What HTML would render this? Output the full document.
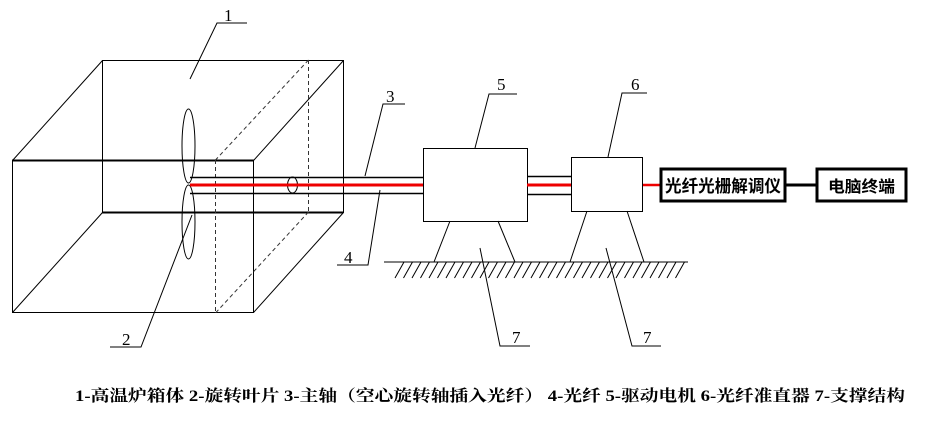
<!DOCTYPE html>
<html><head><meta charset="utf-8"><style>
html,body{margin:0;padding:0;background:#fff;}
svg{display:block;}
</style></head><body>
<svg width="952" height="421" viewBox="0 0 952 421" xmlns="http://www.w3.org/2000/svg">
<g stroke="#000" stroke-width="1" fill="none">
<rect x="102.5" y="60.5" width="241" height="152"/>
<line x1="102" y1="212.5" x2="343" y2="212.5" stroke-width="2"/>
<rect x="12.5" y="160.5" width="241" height="152"/>
<line x1="12" y1="160.5" x2="254" y2="160.5" stroke-width="2"/>
<line x1="12.5" y1="160.5" x2="102.5" y2="60.5"/>
<line x1="253.5" y1="160.5" x2="343.5" y2="60.5"/>
<line x1="12.5" y1="312.5" x2="102.5" y2="212.5"/>
<line x1="253.5" y1="312.5" x2="343.5" y2="212.5"/>
<g stroke-dasharray="4,3" stroke="#333">
<line x1="308.5" y1="60" x2="308.5" y2="212"/>
<line x1="308.5" y1="60" x2="215.5" y2="160"/>
<line x1="215.5" y1="160" x2="215.5" y2="313"/>
<line x1="308.5" y1="212" x2="215.5" y2="313"/>
</g>
<ellipse cx="188.5" cy="146" rx="6.5" ry="37"/>
<ellipse cx="188.5" cy="222" rx="6.5" ry="37"/>
<line x1="190" y1="177.5" x2="423" y2="177.5" stroke-width="1.5"/>
<line x1="190" y1="193.5" x2="423" y2="193.5" stroke-width="1.5"/>
<ellipse cx="292.5" cy="185" rx="5" ry="8"/>
<line x1="527" y1="176.5" x2="571" y2="176.5" stroke-width="1.5"/>
<line x1="527" y1="194.5" x2="571" y2="194.5" stroke-width="1.5"/>
<rect x="423.5" y="148.5" width="104" height="73" fill="#fff"/>
<rect x="571.5" y="157.5" width="71" height="54" fill="#fff"/>
<line x1="190" y1="185" x2="423" y2="185" stroke="#e00" stroke-width="3"/>
<line x1="527" y1="185" x2="571" y2="185" stroke="#e00" stroke-width="3"/>
<line x1="643" y1="185" x2="660" y2="185" stroke="#e00" stroke-width="2.5"/>
<rect x="661" y="169" width="124" height="32" stroke-width="3"/>
<line x1="785" y1="185" x2="817" y2="185" stroke-width="3"/>
<rect x="817" y="169" width="89" height="32" stroke-width="3"/>
<line x1="450" y1="221" x2="434" y2="262"/>
<line x1="498" y1="221" x2="515" y2="262"/>
<line x1="587" y1="211" x2="570" y2="262"/>
<line x1="627" y1="211" x2="644" y2="262"/>
<line x1="384" y1="262" x2="688" y2="262"/>
<path d="M404,262L395,278 M412.5,262L403.5,278 M421,262L412,278 M429.5,262L420.5,278 M438,262L429,278 M446.5,262L437.5,278 M455,262L446,278 M463.5,262L454.5,278 M472,262L463,278 M480.5,262L471.5,278 M489,262L480,278 M497.5,262L488.5,278 M506,262L497,278 M514.5,262L505.5,278 M523,262L514,278 M531.5,262L522.5,278 M540,262L531,278 M548.5,262L539.5,278 M557,262L548,278 M565.5,262L556.5,278 M574,262L565,278 M582.5,262L573.5,278 M591,262L582,278 M599.5,262L590.5,278 M608,262L599,278 M616.5,262L607.5,278 M625,262L616,278 M633.5,262L624.5,278 M642,262L633,278 M650.5,262L641.5,278 M659,262L650,278 M667.5,262L658.5,278 M676,262L667,278 M684.5,262L675.5,278"/>
<polyline points="190,79 217,23 247,23"/>
<polyline points="192,215 141,347 110,347"/>
<polyline points="365,176 383,104 405,104"/>
<polyline points="380,190 368,265 337,265"/>
<polyline points="475,148 489,94 517,94"/>
<polyline points="608,157 622,93 647,93"/>
<polyline points="480,248 500,346 530,346"/>
<polyline points="606,248 632,346 661,346"/>
</g>
<g font-family="Liberation Serif, serif" font-size="17" fill="#000">
<text x="224" y="21">1</text>
<text x="122" y="345">2</text>
<text x="386" y="102">3</text>
<text x="344" y="263">4</text>
<text x="497" y="90">5</text>
<text x="631" y="90">6</text>
<text x="512" y="343">7</text>
<text x="643" y="343">7</text>
</g>
<g font-family="Liberation Sans, 'Noto Sans CJK SC', sans-serif" fill="#000">
<text x="665" y="192" font-size="17" font-weight="bold" textLength="116" lengthAdjust="spacingAndGlyphs">光纤光栅解调仪</text>
<text x="828" y="192" font-size="16" font-weight="bold" textLength="67" lengthAdjust="spacingAndGlyphs">电脑终端</text>
</g>
<text x="75" y="401" font-family="Liberation Serif, 'Noto Serif CJK SC', serif" font-size="16" font-weight="bold" textLength="830" lengthAdjust="spacingAndGlyphs">1-高温炉箱体  2-旋转叶片 3-主轴（空心旋转轴插入光纤） 4-光纤 5-驱动电机 6-光纤准直器 7-支撑结构</text>
</svg>
</body></html>
